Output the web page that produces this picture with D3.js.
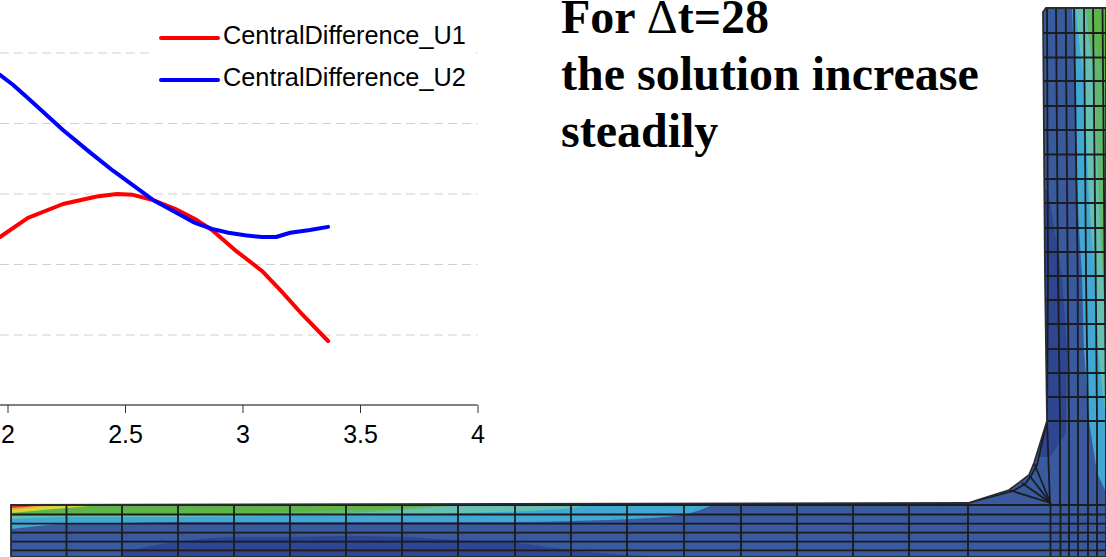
<!DOCTYPE html>
<html>
<head>
<meta charset="utf-8">
<script src="https://cdn.jsdelivr.net/npm/d3@7"></script>
<style>
  html, body { margin: 0; padding: 0; background: #fff; overflow: hidden; }
  svg { display: block; }
</style>
</head>
<body>
<svg id="chart" width="1106" height="557"></svg>
<script>
// plot data, x is time and y is counted in grid steps (the y labels are cropped off)
const xTicks = [2, 2.5, 3, 3.5, 4];
const gridLevels = [1, 2, 3, 4, 5];
const seriesNames = ['CentralDifference_U1', 'CentralDifference_U2'];
const u1X = [1.968, 2.087, 2.236, 2.38, 2.466, 2.534, 2.619, 2.713, 2.806, 2.87, 2.968, 3.083, 3.16, 3.245, 3.364];
const u1Y = [2.39, 2.66, 2.858, 2.965, 3.0, 2.988, 2.915, 2.79, 2.63, 2.49, 2.205, 1.908, 1.64, 1.326, 0.915];
const u2X = [1.968, 2.023, 2.096, 2.236, 2.351, 2.449, 2.619, 2.713, 2.798, 2.87, 2.94, 3.011, 3.083, 3.143, 3.203, 3.287, 3.364];
const u2Y = [4.69, 4.55, 4.333, 3.908, 3.59, 3.33, 2.916, 2.745, 2.59, 2.505, 2.45, 2.414, 2.39, 2.39, 2.45, 2.49, 2.534];

const title = ['For \u0394t=28', 'the solution increase', 'steadily'];

// finite element model, in model units
const flangeCols = [11, 66.5, 122, 178, 234, 290, 346, 402, 458, 515, 571, 627, 684, 741, 797, 853, 909, 968, 1050.5, 1060.5, 1069, 1078, 1088, 1097];
const flangeRows = [505, 514.5, 523.7, 532.7, 541.7, 550.3];
const webRows = [33, 57.5, 81, 106, 130, 154.5, 179, 203, 228, 252, 276, 300, 324, 349, 373, 397, 421];
const webColStations = [8, 276, 421, 504];
const webCols = [
  [1047, 1048, 1047, 1050],
  [1056, 1058, 1060, 1060],
  [1065.7, 1067.7, 1069, 1069],
  [1074, 1077.7, 1078, 1078],
  [1084, 1086, 1088, 1088],
  [1093, 1095.7, 1097, 1097],
  [1102.5, 1104.7, 1106, 1106]
];
const outline = [[1043, 12], [1046, 8], [1106, 8], [1106, 557], [11, 557], [11, 505], [968, 503], [1009, 490], [1029, 475], [1034, 463], [1047, 421], [1045, 276]];
const fanCentre = [1050.5, 503];
const fanOuter = [[1034, 463], [1029, 475], [1022, 483], [1009, 490]];
const fanInner = [[1047, 421], [1037, 465], [1031, 476], [1025, 484], [1013, 491], [968, 503]];

const flangeX = [11, 66, 122, 178, 234, 290, 346, 402, 458, 515, 571, 590, 627, 684, 713];
const greenEdge = [516, 515.5, 515, 515, 514.5, 514, 513, 510, 505.5, 505, 505, 505, 505, 505, 505];
const tealEdge = [519, 517, 517, 517, 516.5, 516, 516, 515, 513, 511.5, 508, 505, 505, 505, 505];
const cyanEdge = [529, 524, 523, 522, 522, 522, 522, 522, 522, 522, 521, 520.5, 519.3, 514.5, 505];
const darkX = [122, 178, 234, 290, 346, 402, 458, 517, 570, 627, 690];
const darkEdge = [551.7, 541.7, 537, 537, 536, 537, 540, 543, 550, 555, 557];

const webY = [8, 33, 81, 130, 179, 228, 276, 349, 421, 473, 492];
const cyanLeft = [1072, 1073, 1075, 1076, 1077, 1079, 1082, 1084, 1089, 1097, 1106];
const tealLeft = [1076, 1078, 1084, 1086, 1088, 1091, 1095, 1098, 1106, 1110, 1112];
const greenLeft = [1086, 1088, 1095, 1096, 1098, 1100, 1103, 1106, 1112, 1112, 1112];
const brightY = [8, 33, 60, 90];
const brightLeft = [1093, 1094, 1099, 1108];
const darkWebY = [190, 276, 349, 421, 433, 457];
const darkWebX = [1048, 1062, 1067, 1066, 1066, 1050];

const svg = d3.select('#chart');

// scales
const x = d3.scaleLinear().domain([2, 4]).range([7.5, 477.5]);
const y = d3.scaleLinear().domain([0, 5]).range([405.5, 53]);
const mx = d3.scaleIdentity();
const my = d3.scaleIdentity();

// model first, it sits behind nothing else
const model = svg.append('g');
const clip = svg.append('defs').append('clipPath').attr('id', 'body');
const polyLine = d3.line().x(d => mx(d[0])).y(d => my(d[1]));
clip.append('path').attr('d', polyLine(outline) + 'Z');

const fills = model.append('g').attr('clip-path', 'url(#body)');
fills.append('path').attr('d', polyLine(outline) + 'Z').attr('fill', '#3a5a9e');

// flange bands
function band(xs, top, bottom, colour) {
  const area = d3.area()
    .x((d, i) => mx(xs[i]))
    .y0((d, i) => my(top[i]))
    .y1((d, i) => my(bottom[i]))
    .curve(d3.curveMonotoneX);
  fills.append('path').attr('d', area(xs)).attr('fill', colour);
}
const flangeTop = flangeX.map(() => 503);
band(darkX, darkEdge, darkX.map(() => 557), '#2e4590');
band(flangeX, flangeTop, cyanEdge, '#41a8d3');
band(flangeX, flangeTop, tealEdge, '#66c0b2');
band(flangeX, flangeTop, greenEdge, '#63b76a');
band([11, 60, 122, 178, 234, 290, 346, 402, 440], [503, 503, 503, 503, 503, 503, 503, 503, 503], [513.5, 513.5, 513, 513, 513, 512, 510, 508, 505], '#5cb546');
band([11, 43, 90], [504, 504, 504], [513, 510, 506], '#d5d63a');
band([11, 30, 50], [504, 504, 504], [510, 508, 505.5], '#f2a52a');
band([11, 25, 43], [504, 504, 504], [508, 507, 505], '#d8392b');

// web bands, boundaries run down the height
function webBand(ys, left, colour) {
  const area = d3.area()
    .y((d, i) => my(ys[i]))
    .x0((d, i) => mx(left[i]))
    .x1(() => mx(1110));
  fills.append('path').attr('d', area(ys)).attr('fill', colour);
}
webBand(webY, cyanLeft, '#41a8d3');
webBand(webY, tealLeft, '#66c0b2');
webBand(webY, greenLeft, '#63b76a');
webBand(brightY, brightLeft, '#5cb546');
fills.append('path')
  .attr('d', d3.area().y((d, i) => my(darkWebY[i])).x0(() => mx(1040)).x1((d, i) => mx(darkWebX[i]))(darkWebY))
  .attr('fill', '#2e4590');

// mesh
const mesh = model.append('g').attr('clip-path', 'url(#body)')
  .attr('fill', 'none').attr('stroke', '#1a1c20').attr('stroke-width', 1.8);
mesh.selectAll('.row').data(flangeRows).join('line').attr('class', 'row')
  .attr('x1', mx(11)).attr('x2', mx(1106))
  .attr('y1', d => my(d)).attr('y2', d => my(d));
mesh.selectAll('.col').data(flangeCols).join('line').attr('class', 'col')
  .attr('x1', d => mx(d)).attr('x2', d => mx(d))
  .attr('y1', my(503)).attr('y2', my(557));
mesh.selectAll('.webrow').data(webRows).join('line').attr('class', 'webrow')
  .attr('x1', mx(1040)).attr('x2', mx(1106))
  .attr('y1', d => my(d)).attr('y2', d => my(d));
const webLine = d3.line().x(d => mx(d)).y((d, i) => my(webColStations[i]));
mesh.selectAll('.webcol').data(webCols).join('path').attr('class', 'webcol').attr('d', d => webLine(d));
mesh.selectAll('.fan').data(fanOuter).join('line').attr('class', 'fan')
  .attr('x1', mx(fanCentre[0])).attr('y1', my(fanCentre[1]))
  .attr('x2', d => mx(d[0])).attr('y2', d => my(d[1]));
mesh.append('path').attr('d', polyLine(fanInner));

model.append('path').attr('d', polyLine(outline) + 'Z')
  .attr('fill', 'none').attr('stroke', '#2a2c30').attr('stroke-width', 1.8);

// grid
svg.append('g').selectAll('line').data(gridLevels).join('line')
  .attr('x1', 0).attr('x2', x(4))
  .attr('y1', d => y(d)).attr('y2', d => y(d))
  .attr('stroke', '#d0d0d0').attr('stroke-width', 1).attr('stroke-dasharray', '9,5');

// legend background hides the top grid line like in the source
svg.append('rect').attr('x', 152).attr('y', 20).attr('width', 320).attr('height', 75).attr('fill', '#fff');

// x axis
const xAxis = d3.axisBottom(x).tickValues(xTicks).tickFormat(d3.format('')).tickSize(8).tickPadding(12);
const axisG = svg.append('g').attr('transform', 'translate(0,405)').call(xAxis);
axisG.select('.domain').attr('d', 'M0,0H' + x(4)).attr('stroke', '#808080').attr('stroke-width', 2);
axisG.selectAll('.tick line').attr('stroke', '#333');
axisG.selectAll('text').attr('font-family', '"Liberation Sans", Arial, sans-serif').attr('font-size', 25).attr('fill', '#000');

// lines
const line = d3.line().x(d => x(d[0])).y(d => y(d[1]));
const lineColours = ['#ff0000', '#0000ff'];
const allLines = [d3.zip(u1X, u1Y), d3.zip(u2X, u2Y)];
svg.append('g').selectAll('path').data(allLines).join('path')
  .attr('d', line)
  .attr('fill', 'none')
  .attr('stroke', (d, i) => lineColours[i])
  .attr('stroke-width', 4)
  .attr('stroke-linejoin', 'round')
  .attr('stroke-linecap', 'round');

// legend
const legend = svg.append('g').selectAll('g').data(seriesNames).join('g')
  .attr('transform', (d, i) => `translate(161,${38 + i * 42})`);
legend.append('line').attr('x1', 0).attr('x2', 57)
  .attr('stroke', (d, i) => lineColours[i]).attr('stroke-width', 4).attr('stroke-linecap', 'round');
legend.append('text').attr('x', 62).attr('y', 6)
  .attr('font-family', '"Liberation Sans", Arial, sans-serif').attr('font-size', 25.3).attr('fill', '#000')
  .text(d => d);

// title, the delta is a lighter glyph than the rest of the line
const titleText = svg.append('g').selectAll('text').data(title).join('text')
  .attr('x', 561).attr('y', (d, i) => 33 + i * 57)
  .attr('font-family', '"Liberation Serif", "Times New Roman", serif')
  .attr('font-weight', 'bold').attr('font-size', 48).attr('fill', '#000');
titleText.selectAll('tspan').data(d => d.split(/(\u0394)/)).join('tspan')
  .attr('font-weight', d => d == '\u0394' ? 'normal' : 'bold')
  .text(d => d);
</script>
</body>
</html>
